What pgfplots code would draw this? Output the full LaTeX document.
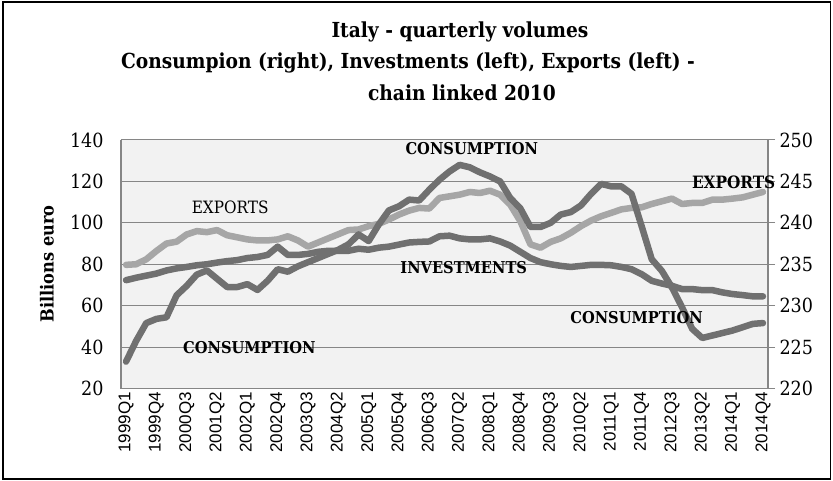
\documentclass[border=0pt]{standalone}
\usepackage{pgfplots}
\pgfplotsset{compat=1.18}
\usepackage{fontspec}
\setmainfont{DejaVu Serif Condensed}
\newfontfamily\sansf{Liberation Sans}
\definecolor{darkline}{RGB}{112,112,112}
\definecolor{lightline}{RGB}{166,166,166}
\definecolor{gridc}{RGB}{134,134,134}
\definecolor{plotbg}{RGB}{242,242,242}
\newcommand{\fs}[1]{\fontsize{#1bp}{#1bp}\selectfont}

\pgfplotstableread{
i exports investments
0 79.7 72.3
1 80 73.5
2 82.4 74.5
3 86.4 75.5
4 90 77
5 90.9 78
6 94.4 78.7
7 96 79.5
8 95.5 80
9 96.5 80.8
10 94 81.5
11 93 82
12 92 83
13 91.5 83.5
14 91.5 84.5
15 92 88.5
16 93.5 84.5
17 91.5 84.5
18 88.5 85
19 90.5 86
20 92.5 86.5
21 94.5 86.5
22 96.5 86.5
23 96.8 87.5
24 98.4 87
25 99.5 88
26 101.6 88.5
27 104 89.5
28 105.9 90.5
29 107.2 90.8
30 106.9 91
31 112 93.5
32 112.8 93.8
33 113.6 92.5
34 114.9 92
35 114.4 92
36 115.5 92.5
37 113.6 91
38 108.8 89
39 100.8 86
40 89.6 83
41 88 81
42 90.8 80
43 92.5 79.2
44 95.2 78.7
45 98.4 79.2
46 101.1 79.7
47 103.2 79.7
48 104.8 79.5
49 106.5 78.7
50 107.2 77.6
51 107.5 75.2
52 109.1 72
53 110.4 70.7
54 111.7 69.6
55 109.1 68
56 109.6 68
57 109.6 67.5
58 111.2 67.5
59 111.2 66.4
60 111.7 65.6
61 112.3 65.1
62 113.6 64.5
63 114.9 64.5
}\leftdata

\pgfplotstableread{
i consumption
0 223.25
1 225.75
2 227.9
3 228.4
4 228.6
5 231.25
6 232.4
7 233.75
8 234.25
9 233.25
10 232.25
11 232.25
12 232.6
13 231.9
14 233
15 234.4
16 234.1
17 234.75
18 235.25
19 235.75
20 236.25
21 236.75
22 237.4
23 238.6
24 237.8
25 239.8
26 241.5
27 242
28 242.8
29 242.7
30 244
31 245.2
32 246.2
33 247
34 246.7
35 246.1
36 245.6
37 245
38 243
39 241.75
40 239.5
41 239.5
42 240
43 241
44 241.3
45 242.1
46 243.5
47 244.7
48 244.4
49 244.4
50 243.5
51 239.6
52 235.6
53 234.2
54 232.2
55 229.8
56 227.2
57 226.1
58 226.4
59 226.7
60 227
61 227.4
62 227.8
63 227.9
}\rightdata

\begin{document}
\begin{tikzpicture}
\useasboundingbox (-121bp,-92.5bp) rectangle (712bp,388.5bp);
\draw[black, line width=1.1bp] (-118bp,-90.5bp) rectangle (709.5bp,386.5bp);
\begin{axis}[
  at={(0,0)}, anchor=south west,
  width=647bp, height=248.5bp, scale only axis,
  xmin=-0.5, xmax=63.5, ymin=20, ymax=140,
  ytick={20,40,...,140},
  xtick={0,3,...,63},
  xticklabels={1999Q1,1999Q4,2000Q3,2001Q2,2002Q1,2002Q4,2003Q3,2004Q2,2005Q1,2005Q4,2006Q3,2007Q2,2008Q1,2008Q4,2009Q3,2010Q2,2011Q1,2011Q4,2012Q3,2013Q2,2014Q1,2014Q4},
  axis background/.style={fill=plotbg},
  ymajorgrids, major grid style={gridc, line width=1bp},
  axis x line*=bottom, axis y line*=left,
  axis line style={gridc, line width=1.2bp, -},
  major tick length=0pt,
  /pgf/number format/assume math mode=true,
  xticklabel style={rotate=90, anchor=east, font=\sansf\fs{17}},
  yticklabel style={font=\fs{19.5}, xshift=-14bp},
  clip=false,
]
\addplot[lightline, line width=6.5bp, line join=round, line cap=round] table[x=i, y=exports] {\leftdata};
\addplot[darkline, line width=6.5bp, line join=round, line cap=round] table[x=i, y=investments] {\leftdata};
\end{axis}
\begin{axis}[
  at={(0,0)}, anchor=south west,
  width=647bp, height=248.5bp, scale only axis,
  xmin=-0.5, xmax=63.5, ymin=220, ymax=250,
  ytick={220,225,...,250},
  axis x line=none, axis y line*=right,
  axis line style={gridc, line width=1.2bp, -},
  tick align=outside, major tick length=7bp,
  tick style={gridc, line width=1bp},
  /pgf/number format/assume math mode=true,
  yticklabel style={font=\fs{19.5}, xshift=1bp},
  clip=false,
]
\addplot[darkline, line width=6.5bp, line join=round, line cap=round] table[x=i, y=consumption] {\rightdata};
\node[font=\fs{17}] at (axis cs:10.3,241.9) {EXPORTS};
\node[font=\bfseries\fs{16.3}] at (axis cs:12.2,224.9) {CONSUMPTION};
\node[font=\bfseries\fs{16.3}] at (axis cs:34.2,249) {CONSUMPTION};
\node[font=\bfseries\fs{16.3}] at (axis cs:33.4,234.55) {INVESTMENTS};
\node[font=\bfseries\fs{17}] at (axis cs:60.1,244.9) {EXPORTS};
\node[font=\bfseries\fs{16.3}] at (axis cs:50.5,228.6) {CONSUMPTION};
\end{axis}
\node[font=\bfseries\fs{20.7}] at (339bp,356.5bp) {Italy - quarterly volumes};
\node[font=\bfseries\fs{20.7}] at (287bp,325.5bp) {Consumpion (right), Investments (left), Exports (left) -};
\node[font=\bfseries\fs{20.7}] at (341bp,295.5bp) {chain linked 2010};
\node[rotate=90, font=\bfseries\fs{18}] at (-74bp,124.5bp) {Billions euro};
\end{tikzpicture}
\end{document}
